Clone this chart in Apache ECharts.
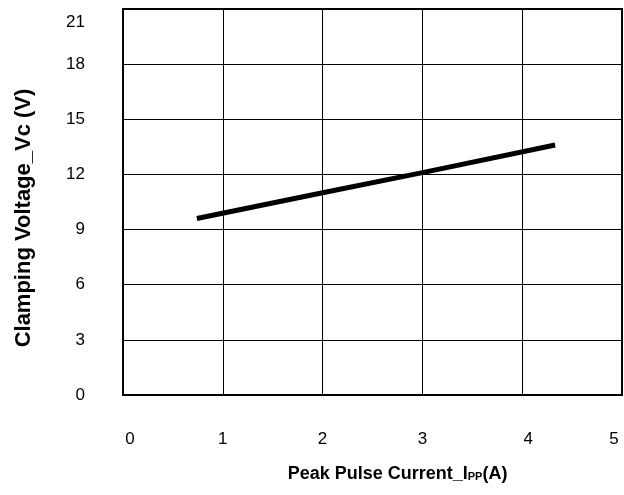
<!DOCTYPE html>
<html>
<head>
<meta charset="utf-8">
<script src="https://cdn.jsdelivr.net/npm/echarts@6/dist/echarts.min.js"></script>
<style>
html,body{margin:0;padding:0;background:#fff;}
#c{width:624px;height:495px;}
</style>
</head>
<body>
<div id="c"></div>
<script>
// Data
var currentA = [0.74, 2, 3, 4.33];
var clampV = [9.6, 11.0, 12.1, 13.6];
var xTicks = [0, 1, 2, 3, 4, 5];
var yTicks = [0, 3, 6, 9, 12, 15, 18, 21];

var pts = currentA.map(function (x, i) { return [x, clampV[i]]; });

var chart = echarts.init(document.getElementById('c'));
var font = 'Liberation Sans, Arial, sans-serif';
var lab = { fontSize: 17, fontFamily: font, color: '#000' };
chart.setOption({
  animation: false,
  backgroundColor: '#fff',
  grid: {
    left: 123, right: 2, top: 9, bottom: 100,
    outerBoundsMode: 'none', containLabel: false,
    show: true, borderColor: '#000', borderWidth: 2, backgroundColor: 'transparent'
  },
  xAxis: {
    type: 'value', min: xTicks[0], max: xTicks[xTicks.length - 1], interval: 1,
    axisLine: { show: false },
    axisTick: { show: false },
    splitLine: { show: true, lineStyle: { color: '#000', width: 1 } },
    axisLabel: {
      color: '#000', fontSize: 17, fontFamily: font, margin: 36,
      formatter: function (v) {
        if (v === 0) return '{l|' + v + '}';
        if (v === 4) return '{m|' + v + '}';
        if (v === 5) return '{r|' + v + '}';
        return String(v);
      },
      rich: {
        l: Object.assign({ padding: [0, 0, 0, 14] }, lab),
        m: Object.assign({ padding: [0, 0, 0, 12] }, lab),
        r: Object.assign({ padding: [0, 16, 0, 0] }, lab)
      }
    },
    name: 'Peak Pulse Current_I{s|PP}(A)',
    nameLocation: 'middle',
    nameGap: 70,
    nameTextStyle: {
      color: '#000', fontSize: 18, fontWeight: 'bold', fontFamily: font,
      padding: [0, 0, 0, 50],
      rich: { s: { fontSize: 11, fontWeight: 'bold', fontFamily: font, color: '#000', verticalAlign: 'bottom', padding: [0, 0, 1, 0] } }
    }
  },
  yAxis: {
    type: 'value', min: yTicks[0], max: yTicks[yTicks.length - 1], interval: 3,
    axisLine: { show: false },
    axisTick: { show: false },
    splitLine: { show: true, lineStyle: { color: '#000', width: 1 } },
    axisLabel: {
      color: '#000', fontSize: 17, fontFamily: font, margin: 38,
      formatter: function (v) {
        if (v === 21) return '{t|' + v + '}';
        return String(v);
      },
      rich: { t: Object.assign({ padding: [26, 0, 0, 0] }, lab) }
    },
    name: 'Clamping Voltage_Vc (V)',
    nameLocation: 'middle',
    nameGap: 88,
    nameTextStyle: {
      color: '#000', fontSize: 22, fontWeight: 'bold', fontFamily: font,
      padding: [0, 32, 0, 0]
    }
  },
  series: [{
    type: 'line',
    data: pts,
    showSymbol: false,
    lineStyle: { color: '#000', width: 5 },
    silent: true
  }]
});
</script>
</body>
</html>
